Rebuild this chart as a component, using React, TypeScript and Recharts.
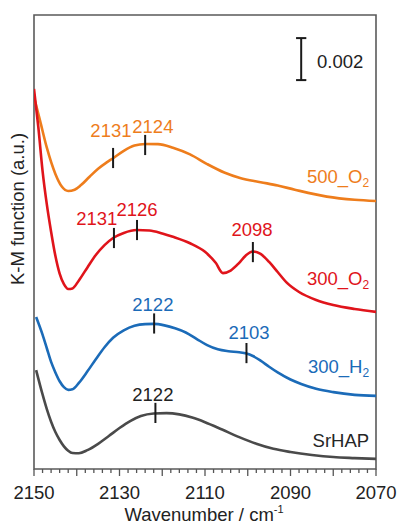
import React from 'react';
import {
  ComposedChart,
  Line,
  XAxis,
  YAxis,
  ReferenceLine,
  ReferenceArea,
  ReferenceDot,
  Customized,
} from 'recharts';

// K-M function values, in units of 0.001 (offset curves, arbitrary baseline)
const wn500O2 = [2150, 2148.6, 2147, 2145, 2143.5, 2142, 2140.5, 2139, 2137, 2135, 2133, 2131.5, 2129, 2126.5, 2124, 2121, 2117.5, 2113.5, 2109.5, 2105.5, 2101.8, 2097, 2093, 2089, 2081.5, 2075, 2070];
const km500O2 = [17.71, 16.6, 15.3, 14.05, 13.45, 13.24, 13.3, 13.52, 13.92, 14.3, 14.6, 14.8, 15.15, 15.4, 15.48, 15.47, 15.3, 14.98, 14.52, 14.12, 13.86, 13.66, 13.5, 13.3, 12.97, 12.82, 12.76];

const wn300O2 = [2150, 2149, 2148, 2147, 2146, 2145, 2144, 2143, 2142, 2141, 2139.5, 2137.5, 2135.5, 2133.5, 2131.5, 2129, 2126, 2123, 2120, 2117.5, 2113.5, 2110, 2107.5, 2105.8, 2104, 2102, 2100.5, 2098.8, 2097, 2095, 2093, 2091, 2088, 2084, 2080, 2075, 2070];
const km300O2 = [18.1, 16.3, 14.2, 12.6, 11.3, 10.15, 9.3, 8.8, 8.57, 8.6, 8.98, 9.6, 10.2, 10.66, 11.0, 11.24, 11.38, 11.36, 11.22, 11.06, 10.75, 10.34, 9.82, 9.33, 9.45, 9.82, 10.16, 10.36, 10.24, 9.86, 9.38, 8.9, 8.43, 8.05, 7.81, 7.62, 7.48];

const wn300H2 = [2149.5, 2148, 2147, 2146, 2145, 2144, 2143, 2142, 2141, 2139.5, 2137.5, 2135.5, 2133.5, 2131.5, 2129, 2126.5, 2124, 2122, 2119.5, 2117, 2114.5, 2112, 2109.5, 2107, 2104.5, 2102, 2100.3, 2098.8, 2097, 2095, 2093, 2090, 2087.5, 2084, 2080, 2075, 2070];
const km300H2 = [7.24, 6.4, 5.75, 5.1, 4.6, 4.18, 3.9, 3.77, 3.8, 4.1, 4.65, 5.24, 5.8, 6.25, 6.6, 6.82, 6.9, 6.91, 6.84, 6.7, 6.5, 6.2, 5.9, 5.7, 5.61, 5.56, 5.5, 5.38, 5.16, 4.87, 4.6, 4.26, 4.05, 3.82, 3.66, 3.53, 3.48];

const wnSrHAP = [2149.5, 2148, 2147, 2146, 2145, 2144, 2143, 2142, 2141, 2139.5, 2137.5, 2135, 2132.5, 2130, 2127.5, 2125, 2122, 2119, 2116, 2113, 2110, 2106, 2102, 2098, 2094, 2090, 2085, 2080, 2075, 2070];
const kmSrHAP = [4.71, 3.55, 2.85, 2.25, 1.76, 1.38, 1.08, 0.87, 0.76, 0.75, 0.9, 1.2, 1.57, 1.95, 2.28, 2.52, 2.64, 2.66, 2.6, 2.45, 2.23, 1.88, 1.52, 1.2, 0.96, 0.81, 0.67, 0.57, 0.52, 0.48];

// Peak marks: wavenumber where the mark is drawn, curve value at mark, printed label
const markSeries = ['500_O2', '500_O2', '300_O2', '300_O2', '300_O2', '300_H2', '300_H2', 'SrHAP'];
const markWn = [2131.5, 2124, 2131.3, 2125.9, 2098.8, 2121.9, 2100.3, 2121.6];
const markKm = [14.81, 15.43, 11.0, 11.38, 10.33, 6.93, 5.52, 2.67];
const markText = ['2131', '2124', '2131', '2126', '2098', '2122', '2103', '2122'];
// label anchor (centre wavenumber, baseline value)
const markLabelWn = [2132.0, 2122.2, 2135.3, 2125.9, 2099.0, 2122.2, 2099.7, 2122.2];
const markLabelKm = [15.81, 16.0, 11.62, 12.05, 11.1, 7.52, 6.19, 3.24];

const seriesNames = ['500_O', '300_O', '300_H', 'SrHAP'];
const seriesSubs = ['2', '2', '2', ''];
const seriesNameKm = [13.62, 8.76, 4.57, 1.05];
const seriesNameWn = 2071.6;

const xTicks: number[] = [];
for (let t = 2150; t >= 2070; t -= 2) xTicks.push(t);
const xLabelTicks = [2150, 2130, 2110, 2090, 2070];

const scaleBarWn = 2087.5;
const scaleBarKm = [18.52, 20.52];
const scaleBarText = '0.002';

const Y_MAX = 21.62;
const FONT = "Arial, 'Liberation Sans', sans-serif";

const COLORS: Record<string, string> = {
  '500_O2': '#EE7D1C',
  '300_O2': '#E0141B',
  '300_H2': '#1B6BB8',
  SrHAP: '#4A4A4A',
};
const nameColors = ['#EE7D1C', '#E0141B', '#1B6BB8', '#262626'];

const toData = (w: number[], v: number[]) => w.map((x, i) => ({ w: x, v: v[i] }));

const AxisTick = (props: any) => {
  const { x, y, payload } = props;
  const val = payload.value as number;
  const major = val % 10 === 0;
  const labelled = xLabelTicks.includes(val);
  return (
    <g>
      <line x1={x} x2={x} y1={y} y2={y + (major ? 7 : 4)} stroke="#555" strokeWidth={1.3} />
      {labelled && (
        <text x={x} y={y + 30} textAnchor="middle" fontSize={18.5} fontFamily={FONT} fill="#222">
          {val}
        </text>
      )}
    </g>
  );
};

const Titles = () => (
  <g>
    <text
      x={0}
      y={0}
      transform="translate(24,209) rotate(-90)"
      textAnchor="middle"
      fontSize={18.5}
      fontFamily={FONT}
      fill="#222"
    >
      K-M function (a.u.)
    </text>
    <text x={204} y={521} textAnchor="middle" fontSize={18.5} fontFamily={FONT} fill="#222">
      Wavenumber / cm
      <tspan fontSize={11} dy={-8}>-1</tspan>
    </text>
  </g>
);

export default function App() {
  const lines = [
    { key: '500_O2', data: toData(wn500O2, km500O2) },
    { key: '300_O2', data: toData(wn300O2, km300O2) },
    { key: '300_H2', data: toData(wn300H2, km300H2) },
    { key: 'SrHAP', data: toData(wnSrHAP, kmSrHAP) },
  ];
  return (
    <div style={{ position: 'absolute', left: 0, top: 0, background: '#fff' }}>
      <ComposedChart
        width={399}
        height={524}
        margin={{ top: 15, right: 23, bottom: 25, left: 34 }}
      >
        <XAxis
          dataKey="w"
          type="number"
          domain={[2070, 2150]}
          reversed
          ticks={xTicks}
          interval={0}
          tick={<AxisTick />}
          tickLine={false}
          axisLine={false}
          tickSize={0}
          tickMargin={0}
          height={30}
          allowDataOverflow
        />
        <YAxis hide type="number" domain={[0, Y_MAX]} allowDataOverflow />
        <ReferenceArea
          x1={2070}
          x2={2150}
          y1={0}
          y2={Y_MAX}
          fill="none"
          fillOpacity={0}
          stroke="#5a5a5a"
          strokeWidth={1.6}
          ifOverflow="visible"
        />
        {lines.map((l) => (
          <Line
            key={l.key}
            data={l.data}
            dataKey="v"
            type="monotone"
            stroke={COLORS[l.key]}
            strokeWidth={2.6}
            dot={false}
            activeDot={false}
            isAnimationActive={false}
          />
        ))}
        {markWn.map((w, i) => (
          <ReferenceLine
            key={'m' + i}
            segment={[
              { x: w, y: markKm[i] - 0.48 },
              { x: w, y: markKm[i] + 0.48 },
            ]}
            stroke="#1a1a1a"
            strokeWidth={2}
            ifOverflow="visible"
          />
        ))}
        {markLabelWn.map((w, i) => (
          <ReferenceDot
            key={'ml' + i}
            x={w}
            y={markLabelKm[i]}
            r={0}
            ifOverflow="visible"
            shape={(p: any) => (
              <text
                x={p.cx}
                y={p.cy}
                textAnchor="middle"
                fontSize={18.5}
                fontFamily={FONT}
                fill={markSeries[i] === 'SrHAP' ? '#222' : COLORS[markSeries[i]]}
              >
                {markText[i]}
              </text>
            )}
          />
        ))}
        {seriesNames.map((n, i) => (
          <ReferenceDot
            key={'sn' + i}
            x={seriesNameWn}
            y={seriesNameKm[i]}
            r={0}
            ifOverflow="visible"
            shape={(p: any) => (
              <text
                x={p.cx}
                y={p.cy}
                textAnchor="end"
                fontSize={18.5}
                fontFamily={FONT}
                fill={nameColors[i]}
              >
                {n}
                {seriesSubs[i] && (
                  <tspan fontSize={12} dy={4}>
                    {seriesSubs[i]}
                  </tspan>
                )}
              </text>
            )}
          />
        ))}
        <ReferenceLine
          segment={[
            { x: scaleBarWn, y: scaleBarKm[0] },
            { x: scaleBarWn, y: scaleBarKm[1] },
          ]}
          stroke="#1a1a1a"
          strokeWidth={2}
          ifOverflow="visible"
        />
        {scaleBarKm.map((k, i) => (
          <ReferenceLine
            key={'sb' + i}
            segment={[
              { x: scaleBarWn + 1.2, y: k },
              { x: scaleBarWn - 1.2, y: k },
            ]}
            stroke="#1a1a1a"
            strokeWidth={2}
            ifOverflow="visible"
          />
        ))}
        <ReferenceDot
          x={2083.8}
          y={19.1}
          r={0}
          ifOverflow="visible"
          shape={(p: any) => (
            <text x={p.cx} y={p.cy} textAnchor="start" fontSize={18.5} fontFamily={FONT} fill="#222">
              {scaleBarText}
            </text>
          )}
        />
        <Customized component={Titles} />
      </ComposedChart>
    </div>
  );
}
